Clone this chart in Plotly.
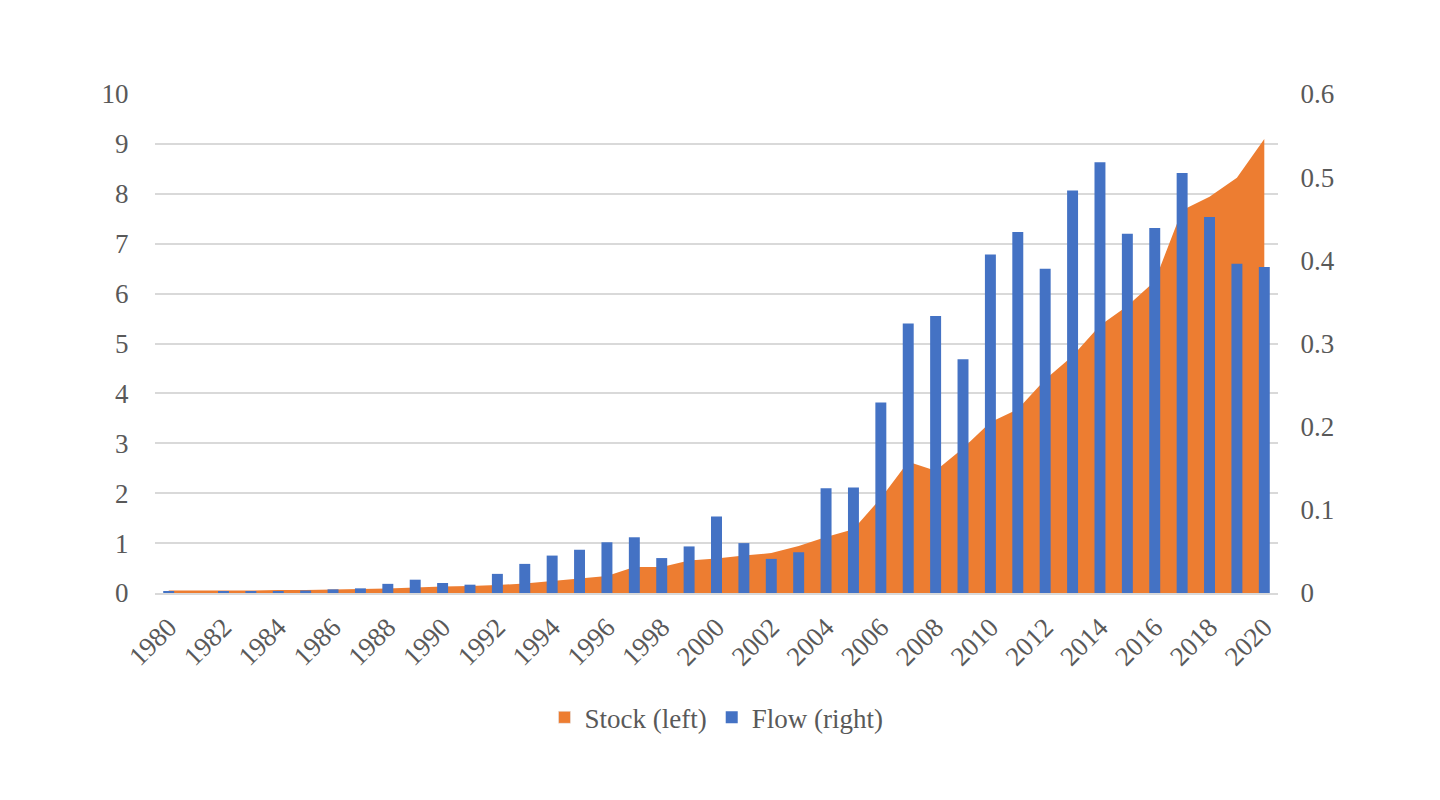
import plotly.graph_objects as go

years = [str(y) for y in range(1980, 2021)]

# stock, left axis
stock = [0.05, 0.05, 0.05, 0.05, 0.06, 0.06, 0.07, 0.08, 0.09, 0.11,
         0.13, 0.14, 0.16, 0.19, 0.24, 0.29, 0.34, 0.52, 0.52, 0.65,
         0.69, 0.75, 0.80, 0.94, 1.12, 1.28, 1.90, 2.63, 2.45, 2.90,
         3.42, 3.68, 4.28, 4.75, 5.36, 5.75, 6.25, 7.67, 7.94, 8.32,
         9.10]

# flow, right axis
flow = [0.002, 0.0, 0.0015, 0.0015, 0.002, 0.003, 0.0044, 0.0056, 0.011, 0.016,
        0.012, 0.010, 0.023, 0.035, 0.045, 0.052, 0.061, 0.067, 0.042, 0.056,
        0.092, 0.060, 0.041, 0.049, 0.126, 0.127, 0.229, 0.324, 0.333, 0.281,
        0.407, 0.434, 0.390, 0.484, 0.518, 0.432, 0.439, 0.505, 0.452, 0.396,
        0.392]

font_family = "'Times New Roman', 'Liberation Serif', 'DejaVu Serif', serif"
fsize = 27
grey = "#595959"
orange = '#ED7D31'
blue = '#4472C4'

fig = go.Figure()

fig.add_trace(go.Scatter(
    x=years, y=stock,
    mode='none',
    fill='tozeroy',
    fillcolor=orange,
    showlegend=False,
    hoverinfo='skip'
))

# legend entry only, so the stock series gets a square key like the flow series
fig.add_trace(go.Bar(
    x=[years[0]], y=[None],
    marker=dict(color=orange),
    name='Stock (left)',
    hoverinfo='skip'
))

fig.add_trace(go.Bar(
    x=years, y=flow,
    yaxis='y2',
    marker=dict(color=blue, line=dict(width=0)),
    width=0.4,
    name='Flow (right)'
))

fig.update_layout(
    width=1424, height=784,
    plot_bgcolor='white',
    paper_bgcolor='white',
    font=dict(family=font_family, size=fsize, color=grey),
    margin=dict(l=147, r=154, t=86, b=199),
    xaxis=dict(
        type='category',
        range=[-0.5, 40.5],
        tickmode='array',
        tickvals=years[::2],
        ticktext=years[::2],
        tickangle=-45,
        showgrid=False,
        showline=True, linecolor='#D9D9D9', linewidth=1.5,
        ticks='outside', ticklen=6, tickcolor='white',
        tickfont=dict(family=font_family, size=fsize, color=grey)
    ),
    yaxis=dict(
        range=[0, 10],
        dtick=1,
        showgrid=True, gridcolor='#D9D9D9', gridwidth=1.5,
        zeroline=False,
        ticks='outside', ticklen=20, tickcolor='white',
        tickfont=dict(family=font_family, size=fsize, color=grey)
    ),
    yaxis2=dict(
        range=[0, 0.6],
        dtick=0.1,
        overlaying='y',
        side='right',
        showgrid=False,
        zeroline=False,
        ticks='outside', ticklen=16, tickcolor='white',
        tickfont=dict(family=font_family, size=fsize, color=grey)
    ),
    legend=dict(
        orientation='h',
        x=0.5, xanchor='center',
        y=-0.25, yanchor='middle',
        font=dict(family=font_family, size=fsize, color=grey),
        itemwidth=30
    ),
    barmode='overlay',
    showlegend=True
)

fig.write_html("out.html")
